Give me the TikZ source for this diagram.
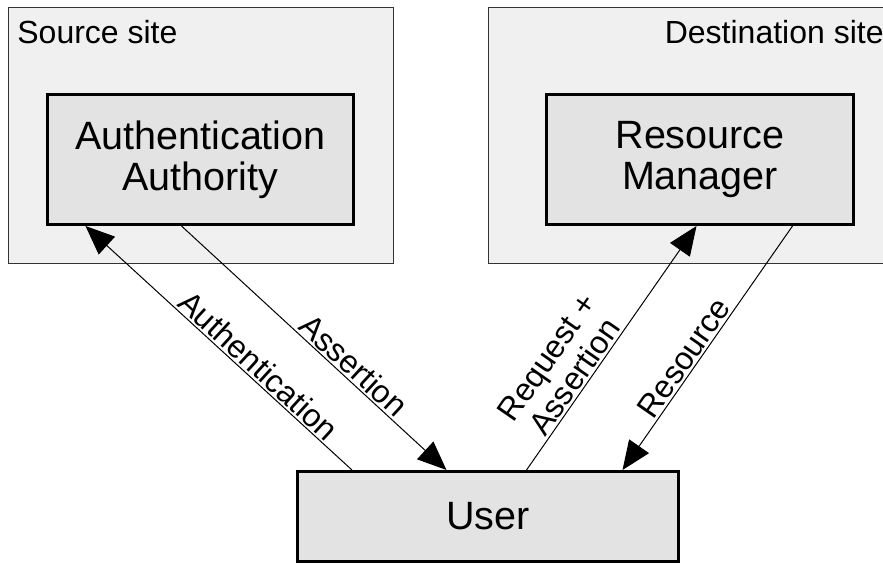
\documentclass[tikz,border=0pt]{standalone}
\usepackage{fontspec}
\setmainfont{Liberation Sans}
\usetikzlibrary{arrows.meta,calc}
\begin{document}
\begin{tikzpicture}[x=0.5pt,y=-0.5pt,
  site/.style={draw=black!80, line width=0.5pt, fill=black!6, rectangle, inner sep=0pt},
  comp/.style={draw=black, line width=1.5pt, fill=black!11, rectangle, inner sep=0pt, align=center, font=\fontsize{19.75}{20.5}\selectfont},
  sitelabel/.style={inner sep=0pt, font=\fontsize{16}{19}\selectfont},
  flow/.style={line width=0.5pt, -{Triangle[length=14.5pt,width=12pt]}},
  flowlabel/.style={sloped, above, inner sep=1pt, align=center, font=\fontsize{16}{17}\selectfont}]

\useasboundingbox (0,0) rectangle (883,564);

\node[site, minimum width=192.5pt, minimum height=128pt] (src) at (200.5,135) {};
\node[site, minimum width=206pt, minimum height=128pt] (dst) at (694,135) {};
\node[sitelabel, anchor=base west] (srcl) at (17,43) {Source site};
\node[sitelabel, anchor=base east] (dstl) at (884,43) {Destination site};

\node[comp, minimum width=153pt, minimum height=65pt] (aa) at (200.5,159.5) {Authentication\\Authority};
\node[comp, minimum width=153.5pt, minimum height=65pt] (rm) at (700,159.5) {Resource\\Manager};
\node[comp, minimum width=190.5pt, minimum height=45pt] (user) at (488,516.5) {User};

\coordinate (u1) at ($(user.north west)+(56,0)$);
\coordinate (a1) at ($(aa.south west)+(39.5,0)$);
\coordinate (a2) at ($(aa.south west)+(135.5,0)$);
\coordinate (u2) at ($(user.north west)+(150.5,0)$);
\coordinate (u3) at ($(user.north west)+(230.5,0)$);
\coordinate (r1) at ($(rm.south west)+(151.5,0)$);
\coordinate (r2) at ($(rm.south west)+(247.5,0)$);
\coordinate (u4) at ($(user.north west)+(326.5,0)$);

\draw[flow] (u1) -- node[flowlabel, pos=0.386] (lauth) {Authentication} (a1);
\draw[flow] (a2) -- node[flowlabel, pos=0.614] (lass) {Assertion} (u2);
\draw[flow] (u3) -- node[flowlabel, pos=0.35] (lreq) {Request +\\Assertion} (r1);
\draw[flow] (r2) -- node[flowlabel, pos=0.573] (lres) {Resource} (u4);
\end{tikzpicture}
\end{document}
